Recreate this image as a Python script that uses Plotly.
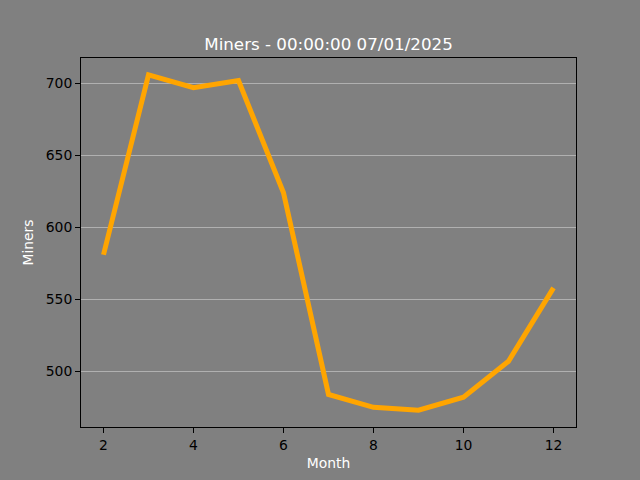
import plotly.graph_objects as go

months = [2, 3, 4, 5, 6, 7, 8, 9, 10, 11, 12]
miners = [581, 706, 697, 702, 624, 484, 475, 473, 482, 507, 558]

fig = go.Figure()
fig.add_trace(go.Scatter(x=months, y=miners, mode="lines",
                         line=dict(color="orange", width=5)))

fig.update_layout(
    width=640, height=480,
    paper_bgcolor="#808080", plot_bgcolor="#808080",
    margin=dict(l=81, r=64, t=58, b=53),
    showlegend=False,
    title=dict(text="Miners - 00:00:00 07/01/2025", x=0.5, xanchor="center",
               xref="paper",
               y=1 - 44/480, yanchor="middle",
               font=dict(family="DejaVu Sans", size=16.7, color="white")),
    font=dict(family="DejaVu Sans", size=13.9, color="black"),
)
fig.update_xaxes(range=[1.5, 12.5], tickvals=[2, 4, 6, 8, 10, 12],
                 showgrid=False, zeroline=False,
                 showline=True, linecolor="black", linewidth=1, mirror=True,
                 ticks="outside", ticklen=5, tickcolor="black",
                 title=dict(text="Month", font=dict(color="white", size=13.9), standoff=6))
fig.update_yaxes(range=[461.35, 717.65], tickvals=[500, 550, 600, 650, 700],
                 showgrid=True, gridcolor="#b0b0b0", gridwidth=0.8, zeroline=False,
                 showline=True, linecolor="black", linewidth=1, mirror=True,
                 ticks="outside", ticklen=5, tickcolor="black",
                 title=dict(text="Miners", font=dict(color="white", size=13.9), standoff=8))

fig.write_html("out.html", config={"displayModeBar": False},
               post_script="document.body.style.margin='0';document.body.style.overflow='hidden';")
